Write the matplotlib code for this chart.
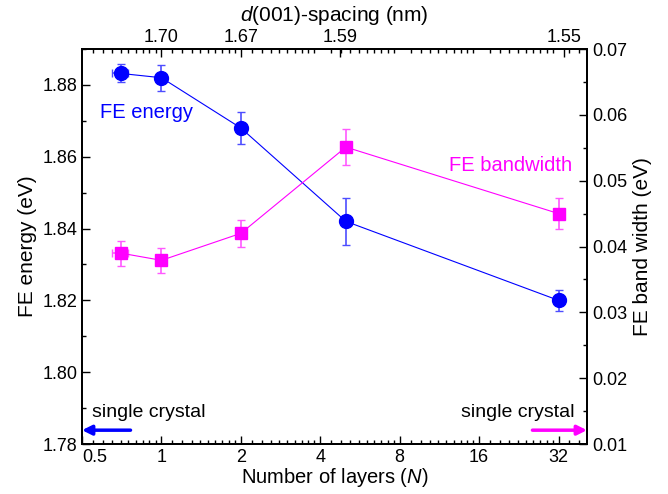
import numpy as np
import matplotlib
matplotlib.use('Agg')
import matplotlib.pyplot as plt
from matplotlib.ticker import FixedLocator, LogLocator, NullFormatter, MultipleLocator, FormatStrFormatter

plt.rcParams['font.family'] = ['Liberation Sans', 'DejaVu Sans']
plt.rcParams['mathtext.fontset'] = 'custom'
plt.rcParams['mathtext.it'] = 'Liberation Sans:italic'
plt.rcParams['mathtext.rm'] = 'Liberation Sans'

# data
layers = [0.7, 1, 2, 5, 32]
layers_err = [0.05, 0, 0, 0, 0]
fe_energy = [1.8832, 1.882, 1.868, 1.842, 1.820]
fe_energy_err = [0.0025, 0.0036, 0.0045, 0.0065, 0.003]
fe_bandwidth = [0.0390, 0.0379, 0.0420, 0.0551, 0.0450]
fe_bandwidth_err = [0.0019, 0.0019, 0.0021, 0.0027, 0.0023]

x_ticks = [0.5, 1, 2, 4, 8, 16, 32]
x_tick_labels = ['0.5', '1', '2', '4', '8', '16', '32']
top_tick_pos = [1, 2, 4.75, 33.5]
top_tick_labels = ['1.70', '1.67', '1.59', '1.55']

blue = '#0000ff'
magenta = '#ff00ff'


def style_ticks(a):
    a.tick_params(which='major', direction='in', length=6, width=1, labelsize=13)
    a.tick_params(which='minor', direction='in', length=3, width=1)


def main():
    fig = plt.figure(figsize=(6.68, 4.94), dpi=100)
    ax = fig.add_axes([0.1228, 0.1012, 0.7559, 0.7996])

    ax.errorbar(layers, fe_energy, yerr=fe_energy_err, xerr=layers_err,
                color=blue, ecolor=(0.3, 0.3, 1.0), elinewidth=1.2, capsize=3,
                marker='o', markersize=10, lw=0.8, zorder=3)
    ax.set_xscale('log', base=2)
    ax.set_xlim(0.5, 41)
    ax.set_ylim(1.78, 1.89)
    ax.xaxis.set_major_locator(FixedLocator(x_ticks))
    ax.set_xticklabels(x_tick_labels)
    # first label sits just right of the corner, like the original
    ax.get_xticklabels()[0].set_ha('left')
    ax.xaxis.set_minor_locator(LogLocator(base=2, subs=np.arange(1.1, 2.0, 0.1)))
    ax.xaxis.set_minor_formatter(NullFormatter())
    ax.yaxis.set_major_locator(MultipleLocator(0.02))
    ax.yaxis.set_minor_locator(MultipleLocator(0.01))
    ax.yaxis.set_major_formatter(FormatStrFormatter('%.2f'))
    style_ticks(ax)
    ax.set_xlabel('Number of layers ($\\mathit{N}$)', fontsize=14.5, labelpad=0)
    ax.set_ylabel('FE energy (eV)', fontsize=15, labelpad=4)

    ax2 = ax.twinx()
    ax2.errorbar(layers, fe_bandwidth, yerr=fe_bandwidth_err, xerr=layers_err,
                 color=magenta, ecolor=(1.0, 0.35, 1.0), elinewidth=1.2, capsize=3,
                 marker='s', markersize=9, lw=0.8, zorder=3)
    ax2.set_ylim(0.01, 0.07)
    ax2.yaxis.set_major_locator(MultipleLocator(0.01))
    ax2.yaxis.set_minor_locator(MultipleLocator(0.005))
    ax2.yaxis.set_major_formatter(FormatStrFormatter('%.2f'))
    style_ticks(ax2)
    ax2.set_ylabel('FE band width (eV)', fontsize=15, labelpad=4)

    ax3 = ax.twiny()
    ax3.set_xscale('log', base=2)
    ax3.set_xlim(ax.get_xlim())
    ax3.xaxis.set_major_locator(FixedLocator(top_tick_pos))
    ax3.set_xticklabels(top_tick_labels)
    ax3.xaxis.set_minor_locator(LogLocator(base=2, subs=np.arange(1.1, 2.0, 0.1)))
    ax3.xaxis.set_minor_formatter(NullFormatter())
    style_ticks(ax3)
    ax3.tick_params(which='major', pad=2)
    ax3.set_xlabel('$\\mathit{d}$(001)-spacing (nm)', fontsize=15, labelpad=6)

    for a in (ax, ax2, ax3):
        for s in a.spines.values():
            s.set_linewidth(1.2)

    ax.text(0.036, 0.838, 'FE energy', color=blue, fontsize=14.5,
            transform=ax.transAxes, ha='left', va='center')
    ax.text(0.97, 0.706, 'FE bandwidth', color=magenta, fontsize=14.5,
            transform=ax.transAxes, ha='right', va='center')

    ax.text(0.02, 0.08, 'single crystal', fontsize=14,
            transform=ax.transAxes, ha='left', va='center')
    ax.text(0.976, 0.08, 'single crystal', fontsize=14,
            transform=ax.transAxes, ha='right', va='center')
    ax.annotate('', xy=(0.0, 0.035), xytext=(0.096, 0.035),
                xycoords='axes fraction',
                arrowprops=dict(arrowstyle='-|>', color=blue, lw=2.5,
                                mutation_scale=14, shrinkA=0, shrinkB=0))
    ax.annotate('', xy=(1.0, 0.035), xytext=(0.892, 0.035),
                xycoords='axes fraction',
                arrowprops=dict(arrowstyle='-|>', color=magenta, lw=2.5,
                                mutation_scale=14, shrinkA=0, shrinkB=0))

    fig.savefig('out.png', dpi=100)


if __name__ == "__main__":
    main()
